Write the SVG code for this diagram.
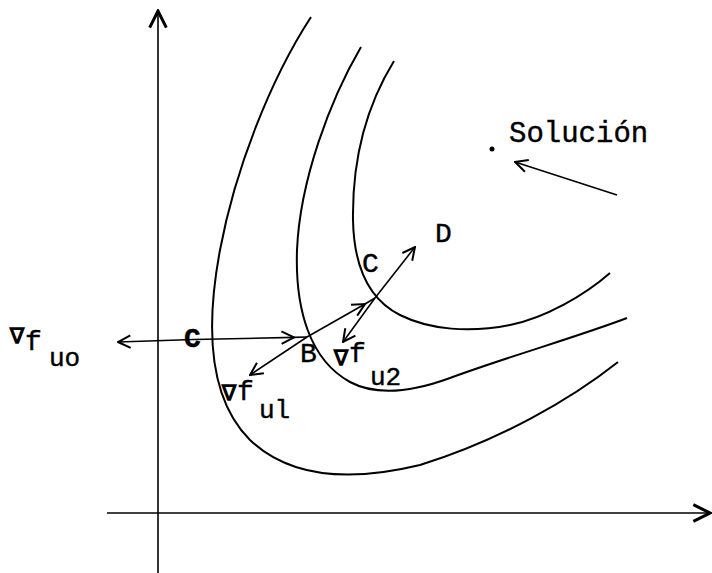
<svg xmlns="http://www.w3.org/2000/svg" width="712" height="573" viewBox="0 0 712 573">
<defs>
<marker id="ah" viewBox="0 0 12 12" refX="11" refY="6" markerWidth="15" markerHeight="15" markerUnits="userSpaceOnUse" orient="auto">
<path d="M1,1 L11,6 L1,11" fill="none" stroke="#000" stroke-width="1.6"/>
</marker>
<marker id="axh" viewBox="0 0 12 12" refX="11" refY="6" markerWidth="20" markerHeight="20" markerUnits="userSpaceOnUse" orient="auto">
<path d="M1,1 L11,6 L1,11" fill="none" stroke="#000" stroke-width="1.8"/>
</marker>
</defs>
<style>
.t{font-family:"Liberation Mono","DejaVu Sans Mono",monospace;fill:#000;stroke:#000;stroke-width:0.4}
.m{font-size:28px}
.s{font-size:26px}
.n{font-size:23px;font-weight:bold;font-family:"DejaVu Sans","Liberation Sans",sans-serif;stroke-width:0}
.c{fill:none;stroke:#000;stroke-width:2}
.l{fill:none;stroke:#000;stroke-width:1.6}
</style>
<rect width="712" height="573" fill="#fff"/>
<g id="axes">
<line x1="158" y1="573" x2="158" y2="11" class="l" stroke-width="2" marker-end="url(#axh)"/>
<line x1="107" y1="513" x2="710" y2="513" class="l" stroke-width="2" marker-end="url(#axh)"/>
</g>
<g id="curves">
<path id="outer" class="c" d="M311,17 C270,80 235,170 220,250 C205,330 210,400 250,440 C290,478 350,482 420,465 C500,440 570,400 618,362"/>
<path id="middle" class="c" d="M361,47 C330,100 300,180 297,250 C295,310 310,360 350,382 C380,398 420,389 450,378 C510,356 580,336 627,318"/>
<path id="inner" class="c" d="M394,61 C370,100 352,150 353,220 C354,270 370,300 400,315 C430,330 470,333 510,325 C545,318 585,295 610,273"/>
</g>
<g id="connectors">
<line x1="194" y1="339.5" x2="118" y2="342" class="l" marker-end="url(#ah)"/>
<line x1="194" y1="339.5" x2="294" y2="337.4" class="l" marker-end="url(#ah)"/>
<line x1="294" y1="337.4" x2="307" y2="337" class="l"/>
<line x1="307" y1="337" x2="365" y2="304" class="l" marker-end="url(#ah)"/>
<line x1="365" y1="304" x2="375" y2="298" class="l"/>
<line x1="375" y1="298" x2="415" y2="247" class="l" marker-end="url(#ah)"/>
<line x1="375" y1="298" x2="343" y2="342" class="l" marker-end="url(#ah)"/>
<line x1="307" y1="337" x2="250" y2="375" class="l" marker-end="url(#ah)"/>
<line x1="617" y1="195" x2="515" y2="162" class="l" stroke-width="2" marker-end="url(#ah)"/>
</g>
<g id="solucion">
<circle cx="492" cy="149" r="2.5" fill="#000"/>
<text class="t" x="509" y="142" font-size="29">Solución</text>
</g>
<g id="grad-uo">
<text class="t m" x="9" y="350"><tspan class="n" y="344">∇</tspan><tspan y="350">f</tspan><tspan class="s" x="49" y="366">uo</tspan></text>
</g>
<g id="pointC0">
<text class="t m" x="184" y="347" font-weight="bold" stroke-width="3">C</text>
</g>
<g id="pointB">
<text class="t m" x="300" y="362">B</text>
</g>
<g id="pointC">
<text class="t m" x="362" y="272">C</text>
</g>
<g id="pointD">
<text class="t m" x="435" y="242">D</text>
</g>
<g id="grad-u1">
<text class="t m" x="221" y="400"><tspan class="n" y="401">∇</tspan><tspan y="400">f</tspan><tspan class="s" x="259" y="418">ul</tspan></text>
</g>
<g id="grad-u2">
<text class="t m" x="333" y="362"><tspan class="n" y="366">∇</tspan><tspan y="362">f</tspan><tspan class="s" x="370" y="385">u2</tspan></text>
</g>
</svg>
